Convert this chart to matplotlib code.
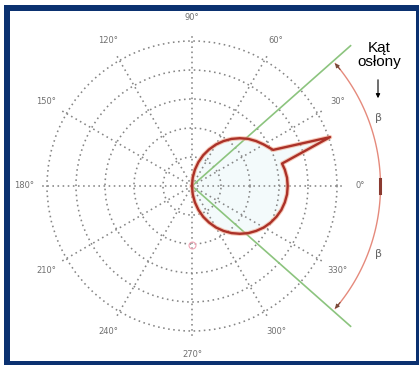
import numpy as np
import matplotlib.pyplot as plt
from matplotlib.patches import Rectangle

# polar grid
rings = [10, 20, 30, 40, 50]
spoke_deg = [0, 30, 60, 90, 120, 150, 180, 210, 240, 270, 300, 330]
spoke_labels = ['0°', '30°', '60°', '90°', '120°', '150°', '180°',
                '210°', '240°', '270°', '300°', '330°']

# radiation pattern: main lobe with a narrow spike near 20 deg
pattern_deg = [-90, -85, -80, -75, -70, -65, -60, -55, -50, -45, -40, -35, -30,
               -25, -20, -15, -10, -5, 0, 5, 10, 14, 19.5, 24, 30, 35, 40, 45,
               50, 55, 60, 65, 70, 75, 80, 85, 90]
pattern_r = [0, 2.9, 5.7, 8.5, 11.3, 13.9, 16.5, 18.9, 21.2, 23.3, 25.3, 27.0, 28.6,
             29.9, 31.0, 31.9, 32.5, 32.9, 33.0, 32.9, 32.5, 32.0, 50.5, 30.6, 28.6,
             27.0, 25.3, 23.3, 21.2, 18.9, 16.5, 13.9, 11.3, 8.5, 5.7, 2.9, 0]

# shielding angle
shield_deg = 41.5
shield_len = 73
arc_r = 65

W, H = 419, 365
fig = plt.figure(figsize=(W / 100, H / 100), dpi=100)

# frame around the picture
def px_rect(x0, y0, x1, y1, color):
    fig.patches.append(Rectangle((x0 / W, 1 - y1 / H), (x1 - x0) / W, (y1 - y0) / H,
                                 transform=fig.transFigure, facecolor=color,
                                 edgecolor='none', zorder=-10))

px_rect(4, 5, 419, 365, '#0b3170')
px_rect(10, 11, 416, 361, 'white')

# polar axes, centre at (192, 186) px, 2.9 px per unit
cx, cy, scale = 192, 186, 2.9
rmax = 52
rad = rmax * scale
ax = fig.add_axes([(cx - rad) / W, (H - cy - rad) / H, 2 * rad / W, 2 * rad / H],
                  projection='polar')
ax.set_rlim(0, rmax)
ax.set_thetagrids(spoke_deg, labels=[''] * len(spoke_deg))
ax.set_rgrids(rings, labels=[''] * len(rings))
ax.spines['polar'].set_visible(False)
ax.patch.set_alpha(0)
ax.set_axisbelow(False)
ax.grid(True, color='#858585', linestyle=(0, (1, 2.2)), linewidth=1.15)
ax.tick_params(length=0)

for d, lab in zip(spoke_deg, spoke_labels):
    ax.text(np.deg2rad(d), 58, lab, fontsize=6, color='#707070',
            ha='center', va='center', clip_on=False)

th = np.deg2rad(pattern_deg)
ax.fill(th, pattern_r, color='#f3fafb', zorder=0.5)
ax.plot(th, pattern_r, color='#f2a58a', linewidth=3.2, zorder=4, alpha=0.6)
ax.plot(th, pattern_r, color='#ab3128', linewidth=1.7, zorder=5)

# shielding lines
for s in (shield_deg, -shield_deg):
    ax.plot([0, np.deg2rad(s)], [0, shield_len], color='#8cc47e', linewidth=1.2,
            zorder=3, clip_on=False)

# arc between the shielding lines
arc_t = np.deg2rad(np.linspace(-shield_deg + 1, shield_deg - 1, 100))
ax.plot(arc_t, np.full_like(arc_t, arc_r), color='#e58a7c', linewidth=1.0,
        clip_on=False, zorder=3)
for s in (shield_deg, -shield_deg):
    ax.annotate('', xy=(np.deg2rad(s), arc_r),
                xytext=(np.deg2rad(s * 0.9), arc_r),
                arrowprops=dict(arrowstyle='-|>', color='#7a4a3a', lw=0.8,
                                mutation_scale=6), annotation_clip=False)
ax.plot(np.deg2rad([-2, 2]), [arc_r, arc_r], color='#8a3a30', linewidth=2.2,
        clip_on=False, zorder=4)
for s in (20, -20):
    ax.text(np.deg2rad(s), arc_r + 3.5, 'β', fontsize=8, color='#666666',
            ha='center', va='center', clip_on=False)

ax.plot(np.deg2rad(270), 20.5, marker='o', markersize=5, markerfacecolor='none',
        markeredgecolor='#f0a6b6', markeredgewidth=0.8, linestyle='none', zorder=3)

# caption with arrow
fig.text(379.5 / W, 1 - 55 / H, 'Kąt\nosłony', fontsize=11, family='Liberation Sans',
         ha='center', va='center', linespacing=1.05)
ax.annotate('', xy=(378, H - 101), xytext=(378, H - 77), xycoords='figure pixels',
            textcoords='figure pixels',
            arrowprops=dict(arrowstyle='-|>', color='black', lw=0.8, mutation_scale=6))

fig.savefig('out.png', dpi=100)
